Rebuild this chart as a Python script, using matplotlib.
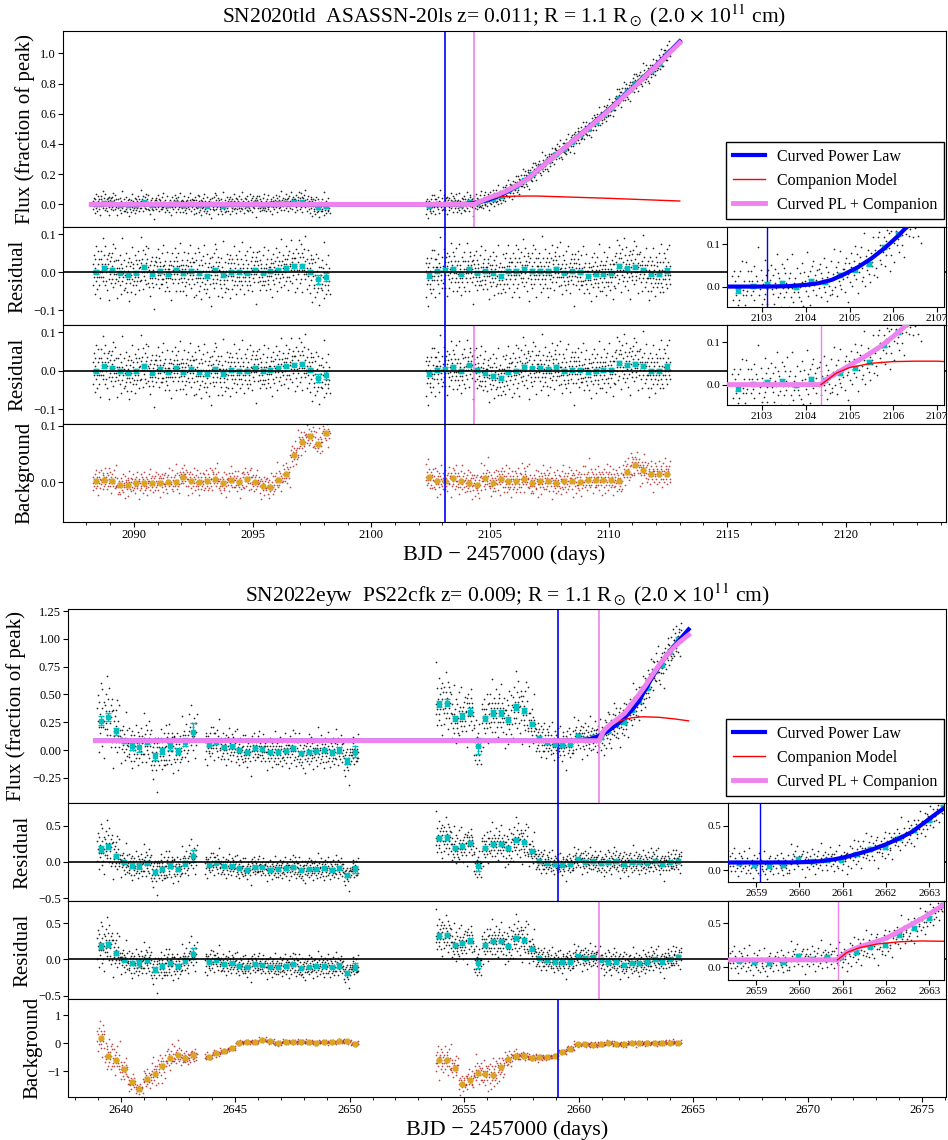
import numpy as np
import matplotlib.pyplot as plt
from matplotlib.lines import Line2D
from matplotlib.ticker import MultipleLocator

plt.rcParams['font.family'] = ['Liberation Serif', 'DejaVu Serif']
plt.rcParams['mathtext.fontset'] = 'stix'

# offsets of the single exposures around their 8-hour bin (read by eye, units of sigma/3)
RES_NOISE = [2, -3, 0, 4, -1, -5, 3, 1, -2, 6, -1, 0, -4, 2, 5, -3,
             -1, 3, -6, 0, 2, -2, 4, -1, 1, -3, 7, -2, 0, 3, -4, 1,
             5, -1, -3, 2, 0, -5, 1, 3, -2, 4, -7, 2, -1, 0, 3, -3,
             -2, 1, 4, -4, 6, 0, -1, 2, -3, 5, -2, -1, 3, -6, 1, 0,
             3, -2, 1, -1, 4, -3, 0, 2, -5, 1, 8, -2, 0, -1, 3, -4,
             1, 0, -3, 5, -2, 2, -1, -4, 3, 0, 1, -6, 4, -1, 2, -2,
             -4, 3, 0, -1, 6, -3, 2, 1, -2, 0, -5, 4, -1, 3, -3, 2,
             0, -2, 5, -1, 1, -4, 3, -2, 0, 7, -3, 1, -1, 2, -5, 0,
             4, -1, -2, 3, 0, -3, 1, 5, -4, 2, -1, 0, -2, 6, -3, 1,
             -1, 2, -5, 0, 3, -2, 4, -1, 1, -3, 0, 2, -8, 3, -1, 4,
             2, -3, 1, 0, -1, 5, -2, 3, -4, 1, 2, -1, 0, -3, 4, -2,
             -3, 1, 6, -2, 0, 2, -4, 1, 3, -1, -2, 5, -3, 0, 1, -1,
             1, -4, 2, 3, -1, 0, -6, 2, -2, 4, 1, -3, 0, 2, -1, 5,
             -2, 0, 3, -5, 1, -1, 2, 4, -3, 0, -2, 1, 7, -4, 2, -1,
             0, 3, -2, 1, -4, 2, 0, -1, 5, -3, 1, 2, -2, -5, 3, 0,
             4, -2, 1, -3, 0, 6, -1, 2, -4, 1, -2, 3, 0, -1, 2, -6]
BG_NOISE = [-1, 2, 4, -3, 0, 1, -5, 3, -2, 0, 6, -1, 2, -4, 1, -2,
            3, 0, -1, 5, -3, 2, -2, 1, 0, -6, 4, -1, 2, -3, 1, 0,
            -2, 4, -1, 0, 3, -4, 2, 1, -3, 0, 5, -2, 1, -1, -4, 3,
            0, -3, 2, 6, -1, 1, -2, 0, 4, -5, 2, -1, 3, 0, -2, 1,
            5, -1, 0, -3, 2, -2, 7, -1, 0, 3, -4, 1, -1, 2, -3, 0,
            -4, 1, 3, -1, 0, 2, -2, 5, -3, 1, 0, -1, 4, -6, 2, -1,
            1, -2, 0, 3, -5, 2, 1, -1, 6, -2, 0, 3, -3, 1, -1, 2,
            -3, 0, 4, -2, 1, -1, 2, -4, 0, 3, -1, 5, -2, 0, 1, -7,
            2, 1, -3, 0, 4, -1, -2, 3, 1, -4, 2, 0, -1, 5, -3, 1,
            0, -1, 3, -2, 2, -5, 1, 0, -2, 4, 1, -3, 6, -1, 0, 2,
            -2, 3, 0, -4, 1, 2, -1, 0, 3, -3, 5, -2, 1, -1, 0, 4,
            1, -3, 2, 0, -6, 3, -1, 2, 0, -2, 1, 4, -4, 0, 2, -1,
            3, -1, -2, 4, 0, -3, 2, 1, -5, 0, 3, -2, 1, 6, -1, 0,
            -1, 2, 0, -3, 5, -2, 1, -4, 2, 0, -1, 3, -2, 1, 8, -3,
            0, 4, -2, 1, -1, 3, -5, 0, 2, -1, 1, -3, 4, 0, -2, 2,
            -3, 1, 0, 5, -2, 1, -4, 3, 0, -1, 2, -2, 1, -6, 3, 0]

# ---------------- SN2020tld / ASASSN-20ls ----------------
TLD_TITLE = 'SN2020tld  ASASSN-20ls z= 0.011; R = 1.1 R$_\\odot$ (2.0 $\\times$ 10$^{11}$ cm)'
TLD_T0_PL, TLD_T0_PLC = 2103.11, 2104.35
TLD_STEP = 1 / 3
TLD_START = [2088.42, 2102.45]
TLD_RES_A = [0.000, 0.011, 0.006, -0.001, -0.007, -0.001, 0.013, -0.005, 0.004, -0.004,
             0.006, -0.003, 0.004, -0.003, -0.009, 0.005, -0.008, 0.001, 0.000, -0.001,
             0.007, -0.001, 0.002, 0.007, 0.011, 0.016, 0.017, 0.001, -0.019, -0.012]
TLD_ERR_A = [0.005] * 28 + [0.011, 0.010]
TLD_RES_B = [-0.009, 0.002, 0.005, 0.008, -0.004, 0.008, -0.001, 0.002, -0.003, -0.009,
             0.004, 0.004, 0.008, 0.004, 0.004, 0.004, 0.009, -0.001, 0.002, 0.000,
             -0.009, -0.006, -0.004, -0.002, 0.016, 0.010, 0.013, 0.007, -0.005, -0.006, 0.004]
TLD_ERR_B = [0.006] + [0.005] * 29 + [0.006]
TLD_BG_A = [0.002, 0.005, 0.002, -0.005, -0.004, -0.002, -0.002, -0.001, -0.001, 0.001,
            0.001, 0.010, 0.002, 0.001, 0.002, 0.006, -0.002, 0.004, 0.000, 0.006,
            0.001, -0.006, -0.008, 0.004, 0.015, 0.049, 0.072, 0.082, 0.068, 0.087]
TLD_BG_B = [0.009, 0.002, 0.003, 0.007, 0.002, -0.001, -0.005, 0.007, -0.001, 0.006,
            0.002, 0.002, 0.006, -0.001, 0.002, 0.003, -0.001, 0.002, 0.003, 0.000,
            0.005, 0.005, 0.005, 0.005, 0.003, 0.019, 0.031, 0.022, 0.015, 0.015, 0.015]
TLD_RES_SPREAD = 0.034
TLD_BG_SPREAD = [0.012, 0.014]
# models (fraction of peak)
TLD_T_PL = [2088.2, 2103.11, 2103.6, 2104.0, 2104.3, 2104.6, 2104.9, 2105.2, 2105.5, 2105.8,
            2106.1, 2106.4, 2106.7, 2107.0, 2107.5, 2108.0, 2108.5, 2109.0, 2110.0, 2111.0,
            2112.0, 2113.0]
TLD_PL = [0.0, 0.0, 0.001, 0.004, 0.008, 0.016, 0.030, 0.046, 0.066, 0.090,
          0.118, 0.150, 0.185, 0.228, 0.290, 0.355, 0.420, 0.490, 0.625, 0.770,
          0.920, 1.080]
TLD_T_PLC = [2088.2, 2104.35, 2104.5, 2104.8, 2105.1, 2105.4, 2105.7, 2106.0, 2106.3, 2106.6,
             2107.0, 2107.5, 2108.0, 2108.5, 2109.0, 2110.0, 2111.0, 2112.0, 2113.0]
TLD_PLC = [0.0, 0.0, 0.014, 0.033, 0.051, 0.069, 0.089, 0.113, 0.140, 0.170,
           0.225, 0.290, 0.355, 0.420, 0.485, 0.620, 0.765, 0.915, 1.070]
TLD_T_COMP = [2104.35, 2104.7, 2105.0, 2105.5, 2106.0, 2106.5, 2107.0, 2108.0, 2110.0, 2113.0]
TLD_COMP = [0.0, 0.027, 0.040, 0.050, 0.054, 0.055, 0.055, 0.050, 0.040, 0.022]

# ---------------- SN2022eyw / PS22cfk ----------------
EYW_TITLE = 'SN2022eyw  PS22cfk z= 0.009; R = 1.1 R$_\\odot$ (2.0 $\\times$ 10$^{11}$ cm)'
EYW_T0_PL, EYW_T0_PLC = 2659.08, 2660.88
EYW_STEP = 0.336
EYW_START = [2639.13, 2643.84, 2653.91]
EYW_RES_A1 = [0.18, 0.21, 0.085, -0.005, -0.05, -0.055, -0.01, -0.14, -0.095, -0.05, -0.095, -0.015, 0.08]
EYW_ERR_A1 = [0.04, 0.035, 0.03, 0.02, 0.03, 0.045, 0.02, 0.03, 0.025, 0.03, 0.025, 0.035, 0.08]
EYW_RES_A2 = [-0.035, -0.015, -0.06, -0.05, -0.085, -0.105, -0.065, -0.075, -0.105, -0.10,
              -0.09, -0.065, -0.115, -0.10, -0.095, -0.085, -0.105, -0.085, -0.185, -0.10]
EYW_ERR_A2 = [0.015] * 15 + [0.02, 0.02, 0.03, 0.025, 0.05]
EYW_RES_B = [0.33, 0.34, 0.20, 0.22, 0.26, -0.05, 0.20, 0.25, 0.25, 0.19, 0.30, 0.27, 0.15, 0.02,
             -0.01, -0.03, -0.04, -0.03, 0.04, 0.005, 0.01, -0.02, 0.0, 0.01, -0.03, 0.005,
             0.0, -0.01, 0.02, -0.03, 0.0, 0.02]
EYW_ERR_B = [0.03, 0.03, 0.025, 0.025, 0.03, 0.07] + [0.025] * 6 + [0.02] * 20
EYW_RSP_A1 = [0.17, 0.16, 0.14, 0.10, 0.10, 0.10, 0.11, 0.12, 0.12, 0.12, 0.10, 0.10, 0.12]
EYW_RSP_A2 = 0.08
EYW_RSP_B = [0.14, 0.14, 0.13, 0.13, 0.12, 0.12, 0.13, 0.13, 0.13, 0.13, 0.14, 0.13, 0.10] + [0.085] * 19
EYW_BG_A1 = [0.19, -0.45, -0.62, -0.93, -1.40, -1.64, -1.27, -1.11, -0.83, -0.54, -0.44, -0.54, -0.44]
EYW_BG_A2 = [-0.49, -0.36, -0.29, -0.18, 0.02, 0.04, 0.04, 0.11, 0.06, 0.00,
             0.05, 0.04, 0.05, 0.04, 0.02, 0.04, 0.04, 0.06, 0.06, -0.02]
EYW_BG_B = [-0.61, -0.62, -0.87, -1.44, -1.31, -1.05, -1.10, -1.13, -0.86, -0.58, -0.45, -0.45,
            -0.52, -0.51, -0.51, -0.46, -0.31, -0.20, -0.05, -0.05, -0.06, -0.04, 0.00, -0.04,
            -0.04, 0.00, -0.01, -0.01, 0.00, 0.01, 0.02, 0.02]
EYW_BGSP_A1 = [0.35, 0.35, 0.30, 0.25, 0.15, 0.12, 0.20, 0.30, 0.30, 0.25, 0.20, 0.15, 0.12]
EYW_BGSP_A2 = [0.07, 0.06, 0.05, 0.05] + [0.045] * 16
EYW_BGSP_B = [0.30, 0.30, 0.25, 0.20, 0.20, 0.25, 0.30, 0.30, 0.25, 0.15, 0.10, 0.08, 0.07, 0.07] + [0.05] * 18
EYW_T_PL = [2638.9, 2659.08, 2659.8, 2660.2, 2660.5, 2660.8, 2661.1, 2661.4, 2661.7, 2662.0,
            2662.3, 2662.6, 2662.9, 2663.2, 2663.5, 2663.8, 2664.1, 2664.4, 2664.8]
EYW_PL = [0.085, 0.085, 0.086, 0.090, 0.100, 0.120, 0.150, 0.190, 0.235, 0.290,
          0.355, 0.430, 0.540, 0.650, 0.750, 0.840, 0.920, 0.990, 1.085]
EYW_T_PLC = [2638.9, 2660.88, 2661.1, 2661.4, 2661.7, 2662.0, 2662.3, 2662.6, 2662.9, 2663.2,
             2663.5, 2663.8, 2664.1, 2664.4, 2664.8]
EYW_PLC = [0.085, 0.085, 0.175, 0.235, 0.280, 0.330, 0.410, 0.490, 0.575, 0.670,
           0.760, 0.840, 0.910, 0.970, 1.035]
EYW_T_COMP = [2660.88, 2661.1, 2661.4, 2661.8, 2662.3, 2662.8, 2663.5, 2664.2, 2664.8]
EYW_COMP = [0.085, 0.170, 0.225, 0.265, 0.290, 0.300, 0.295, 0.280, 0.263]

W, H = 948, 1140
fig = plt.figure(figsize=(W / 100, H / 100), dpi=100)


def box(l, t, r, b):
    return [l / W, 1 - b / H, (r - l) / W, (b - t) / H]


def binned(start, step, vals, spread, noise, off, per=20):
    vals = np.asarray(vals, float)
    n = len(vals)
    centers = start + step * np.arange(n)
    frac = (np.arange(per) + 0.5) / per - 0.5
    tdots = (centers[:, None] + step * frac[None, :]).ravel()
    nz = np.resize(np.roll(np.asarray(noise, float), -off), n * per).reshape(n, per)
    sp = np.broadcast_to(np.asarray(spread, float), (n,))
    ydots = (vals[:, None] + nz * sp[:, None] / 3.0).ravel()
    return centers, tdots, ydots


def data_layer(ax, td, yd, tc, yc, ec):
    ax.plot(td, yd, 'o', ms=1.25, mew=0, color='k', alpha=0.85, zorder=1)
    ax.errorbar(tc, yc, yerr=ec, fmt='s', ms=3.3, color='c', ecolor='c',
                elinewidth=1, capsize=2, zorder=2)


def draw_group(g):
    L, R = g['left'], 946
    ya, yb, yc, yd, ye = g['rows']
    axf = fig.add_axes(box(L, ya, R, yb))
    ax1 = fig.add_axes(box(L, yb, R, yc), sharex=axf)
    ax2 = fig.add_axes(box(L, yc, R, yd), sharex=axf)
    axb = fig.add_axes(box(L, yd, R, ye), sharex=axf)

    tc, td, rc, rd, ec = [], [], [], [], []
    for k, (start, vals, err, spread) in enumerate(g['res']):
        c, t, y = binned(start, g['step'], vals, spread, RES_NOISE, 37 * k)
        tc.append(c); td.append(t); rc.append(np.asarray(vals)); rd.append(y); ec.append(np.asarray(err))
    tc, td, rc, rd, ec = map(np.concatenate, (tc, td, rc, rd, ec))
    bc, bd, bcv, bdv = [], [], [], []
    for k, (start, vals, spread) in enumerate(g['bg']):
        c, t, y = binned(start, g['step'], vals, spread, BG_NOISE, 53 * k + 11)
        bc.append(c); bd.append(t); bcv.append(np.asarray(vals)); bdv.append(y)
    bc, bd, bcv, bdv = map(np.concatenate, (bc, bd, bcv, bdv))

    pl_d = np.interp(td, g['t_pl'], g['pl'])
    plc_d = np.interp(td, g['t_plc'], g['plc'])
    pl_c = np.interp(tc, g['t_pl'], g['pl'])
    plc_c = np.interp(tc, g['t_plc'], g['plc'])
    flux_d, flux_c = rd + pl_d, rc + pl_c
    res2_d, res2_c = rd + pl_d - plc_d, rc + pl_c - plc_c

    # flux panel
    data_layer(axf, td, flux_d, tc, flux_c, ec)
    axf.plot(g['t_pl'], g['pl'], color='blue', lw=3, zorder=3)
    axf.plot(g['t_comp'], g['comp'], color='red', lw=1, zorder=4)
    axf.plot(g['t_plc'], g['plc'], color='violet', lw=3.5, zorder=5)
    axf.axvline(g['t0_pl'], color='blue', lw=1.2)
    axf.axvline(g['t0_plc'], color='violet', lw=1.2)
    handles = [Line2D([], [], color='blue', lw=3), Line2D([], [], color='red', lw=1),
               Line2D([], [], color='violet', lw=3.5)]
    axf.legend(handles, ['Curved Power Law', 'Companion Model', 'Curved PL + Companion'],
               loc='lower right', bbox_to_anchor=(0.998, g['leg_y']), borderaxespad=0,
               fontsize=11.5, fancybox=False, edgecolor='k', framealpha=1)
    axf.set_title(g['title'], fontsize=15.5, pad=g['title_pad'])
    axf.set_ylabel('Flux (fraction of peak)', fontsize=15)
    axf.set_ylim(g['flux_ylim'])
    axf.set_yticks(g['flux_ticks'])

    # residual panels
    data_layer(ax1, td, rd, tc, rc, ec)
    data_layer(ax2, td, res2_d, tc, res2_c, ec)
    for ax, lim in ((ax1, g['res1_ylim']), (ax2, g['res2_ylim'])):
        ax.axhline(0, color='k', lw=1.2, zorder=3)
        ax.set_ylabel('Residual', fontsize=15)
        ax.set_ylim(lim)
        ax.set_yticks(g['res_ticks'])
    ax1.axvline(g['t0_pl'], color='blue', lw=1.2)
    for t0, col in g['res2_lines']:
        ax2.axvline(t0, color=col, lw=1.2)

    # background panel
    axb.plot(bd, bdv, 'o', ms=1.25, mew=0, color='#b01c1c', alpha=0.8, zorder=1)
    axb.plot(bc, bcv, 'o', ms=4.5, mew=0, color='goldenrod', zorder=2)
    axb.axvline(g['t0_pl'], color='blue', lw=1.2)
    axb.set_ylabel('Background', fontsize=15)
    axb.set_ylim(g['bg_ylim'])
    axb.set_yticks(g['bg_ticks'])
    axb.set_xlim(g['xlim'])
    axb.xaxis.set_major_locator(MultipleLocator(5))
    axb.xaxis.set_minor_locator(MultipleLocator(1))
    axb.set_xlabel('BJD \u2212 2457000 (days)', fontsize=16, labelpad=3)

    for ax in (axf, ax1, ax2, axb):
        ax.tick_params(labelsize=9, pad=1.5)
    for ax in (axf, ax1, ax2):
        ax.tick_params(axis='x', which='both', bottom=False, labelbottom=False)

    # zoom-ins around first light
    ins1 = fig.add_axes(box(*g['inset1']))
    data_layer(ins1, td, flux_d, tc, flux_c, ec)
    ins1.plot(g['t_pl'], g['pl'], color='blue', lw=3, zorder=3)
    ins1.axvline(g['t0_pl'], color='blue', lw=1)
    ins1.set_ylim(g['in1_ylim'])
    ins2 = fig.add_axes(box(*g['inset2']))
    data_layer(ins2, td, flux_d, tc, flux_c, ec)
    ins2.plot(g['t_comp'], g['comp'], color='red', lw=1, zorder=4)
    ins2.plot(g['t_plc'], g['plc'], color='violet', lw=3.5, zorder=3)
    ins2.axvline(g['t0_plc'], color='violet', lw=1)
    ins2.set_ylim(g['in2_ylim'])
    for ax in (ins1, ins2):
        ax.set_xlim(g['in_xlim'])
        ax.set_xticks(g['in_xticks'])
        ax.set_yticks(g['in_yticks'])
        ax.tick_params(labelsize=8, pad=1.5)


draw_group(dict(
    left=63, rows=(31, 227, 325, 424, 522), step=TLD_STEP, title=TLD_TITLE, title_pad=6,
    res=[(TLD_START[0], TLD_RES_A, TLD_ERR_A, TLD_RES_SPREAD),
         (TLD_START[1], TLD_RES_B, TLD_ERR_B, TLD_RES_SPREAD)],
    bg=[(TLD_START[0], TLD_BG_A, TLD_BG_SPREAD[0]), (TLD_START[1], TLD_BG_B, TLD_BG_SPREAD[1])],
    t_pl=TLD_T_PL, pl=TLD_PL, t_plc=TLD_T_PLC, plc=TLD_PLC, t_comp=TLD_T_COMP, comp=TLD_COMP,
    t0_pl=TLD_T0_PL, t0_plc=TLD_T0_PLC,
    res2_lines=[(TLD_T0_PL, 'blue'), (TLD_T0_PLC, 'violet')],
    xlim=(2087.01, 2124.22), flux_ylim=(-0.15, 1.148), flux_ticks=[0, 0.2, 0.4, 0.6, 0.8, 1.0],
    res1_ylim=(-0.139, 0.119), res2_ylim=(-0.139, 0.119), res_ticks=[-0.1, 0, 0.1],
    bg_ylim=(-0.070, 0.103), bg_ticks=[0, 0.1], leg_y=0.041,
    inset1=(727, 227, 944, 307), inset2=(727, 325, 944, 405),
    in_xlim=(2102.2, 2107.16), in_xticks=[2103, 2104, 2105, 2106, 2107],
    in1_ylim=(-0.048, 0.14), in2_ylim=(-0.048, 0.14), in_yticks=[0, 0.1]))

draw_group(dict(
    left=68, rows=(609, 803, 901, 999, 1097), step=EYW_STEP, title=EYW_TITLE, title_pad=3,
    res=[(EYW_START[0], EYW_RES_A1, EYW_ERR_A1, EYW_RSP_A1),
         (EYW_START[1], EYW_RES_A2, EYW_ERR_A2, EYW_RSP_A2),
         (EYW_START[2], EYW_RES_B, EYW_ERR_B, EYW_RSP_B)],
    bg=[(EYW_START[0], EYW_BG_A1, EYW_BGSP_A1), (EYW_START[1], EYW_BG_A2, EYW_BGSP_A2),
        (EYW_START[2], EYW_BG_B, EYW_BGSP_B)],
    t_pl=EYW_T_PL, pl=EYW_PL, t_plc=EYW_T_PLC, plc=EYW_PLC, t_comp=EYW_T_COMP, comp=EYW_COMP,
    t0_pl=EYW_T0_PL, t0_plc=EYW_T0_PLC,
    res2_lines=[(EYW_T0_PLC, 'violet')],
    xlim=(2637.7, 2676.04), flux_ylim=(-0.475, 1.268),
    flux_ticks=[-0.25, 0, 0.25, 0.5, 0.75, 1.0, 1.25],
    res1_ylim=(-0.54, 0.816), res2_ylim=(-0.547, 0.807), res_ticks=[-0.5, 0, 0.5],
    bg_ylim=(-1.92, 1.57), bg_ticks=[-1, 0, 1], leg_y=0.036,
    inset1=(728, 803, 944, 882), inset2=(728, 901, 944, 980),
    in_xlim=(2658.35, 2663.34), in_xticks=[2659, 2660, 2661, 2662, 2663],
    in1_ylim=(-0.135, 0.756), in2_ylim=(-0.144, 0.754), in_yticks=[0, 0.5]))

fig.savefig('out.png', dpi=100)
